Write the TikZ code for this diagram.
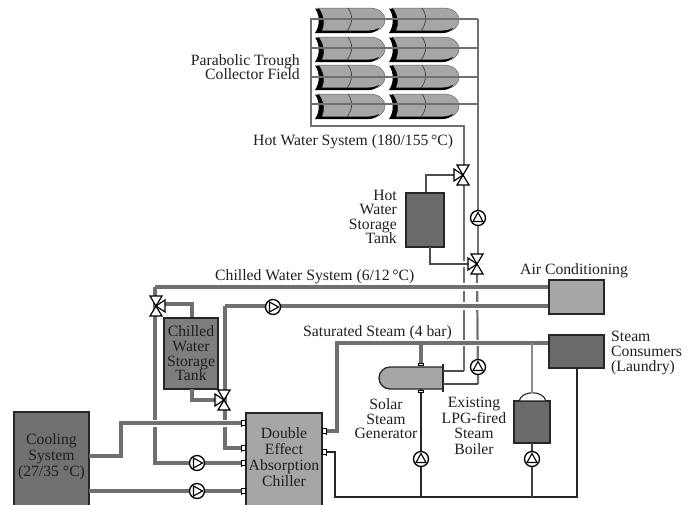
\documentclass[tikz,border=0pt]{standalone}
\usepackage{fontspec}
\setmainfont{Liberation Serif}
\definecolor{pipeg}{HTML}{707070}
\definecolor{darkbox}{HTML}{6A6A6A}
\definecolor{midbox}{HTML}{A6A6A6}
\tikzset{
 every node/.style={font=\fontsize{15.7}{14.6}\selectfont,text=black!88,inner sep=0pt,align=center},
 thick pipe/.style={draw=pipeg,line width=3.2pt,line join=miter},
 mid pipe/.style={draw=pipeg,line width=2.2pt},
 thin pipe/.style={draw=black!85,line width=1.3pt},
 halo/.style={draw=white,line width=8pt},
 pumpnode/.style={circle,draw=black,fill=white,line width=1.3pt,minimum size=15pt},
 tri/.style={draw=black,fill=white,line width=1.2pt,line join=miter},
 port/.style={draw=black,fill=white,line width=.8pt,minimum width=5pt,minimum height=5pt},
}
\newcommand{\pumpat}[3]{%
 \node[pumpnode] (#1) at (#2) {};
 \begin{scope}[shift={(#1)},rotate=#3]
  \draw[black,line width=1.1pt,line join=miter] (-3.5,-5)--(5.5,0)--(-3.5,5)--cycle;
 \end{scope}}
\newcommand{\valveat}[3]{%
 \coordinate (#1) at (#2);
 \begin{scope}[shift={(#1)},rotate=#3]
  \draw[tri] (0,0)--(-6,-10)--(6,-10)--cycle;
  \draw[tri] (0,0)--(-6,10)--(6,10)--cycle;
  \draw[tri] (0,0)--(9,-6)--(9,6)--cycle;
 \end{scope}}
\newcommand{\collector}[2]{%
 \begin{scope}[shift={(#1,#2)}]
  \path[fill=midbox,draw=black!60,line width=.5pt] (3,0) -- (54,0) .. controls (65,0) and (70,6) .. (70,12) .. controls (70,18) and (65,24) .. (54,24) -- (6,24) .. controls (10,16) and (9,7) .. (3,0) -- cycle;
  \fill[black] (0,0.5) -- (4,0.5) .. controls (9,8) and (10,16) .. (7,22.5) -- (54,22.5) .. controls (58,22.5) and (61,21.5) .. (64,20) .. controls (61,23.5) and (58,25) .. (54,25) -- (0,25) .. controls (5,18) and (5,7) .. (0,0.5) -- cycle;
  \draw[black!75,line width=.7pt] (33,0) .. controls (38,7) and (38,15) .. (32,23);
 \end{scope}}
\begin{document}
\begin{tikzpicture}[x=1pt,y=-1pt]
\useasboundingbox (0,0) rectangle (693,504);
\foreach \yy in {8,37,65,94}{\collector{315}{\yy}\collector{389}{\yy}}
\coordinate (fieldL) at (311,19);
\coordinate (fieldR) at (478,19);
\draw[mid pipe] (fieldR) -- (fieldL) -- (311,126) -- (464,126) -- (464,165);
\foreach \yy in {48,77,104}{\draw[mid pipe] (311,\yy) -- (478,\yy);}
\draw[mid pipe] (fieldR) -- (478,254);
\draw[mid pipe] (477,274) -- (478,384);
\draw[mid pipe] (464,185) -- (464,371);
\draw[thick pipe] (155,287) -- (155,463) -- (246,463);
\draw[thick pipe] (225,306) -- (225,448) -- (246,448);
\draw[halo,line width=6pt] (440,264) -- (470,264);
\draw[halo] (440,287) -- (500,287);
\draw[halo] (440,306) -- (500,306);
\draw[halo,line width=6pt] (440,343) -- (500,343);
\draw[halo,line width=7pt] (145,423) -- (235,423);
\node[draw=black!85,line width=1.5pt,fill=darkbox,minimum width=38pt,minimum height=54pt] (hot) at (425,220) {};
\node[draw=black!85,line width=1.5pt,fill=midbox,minimum width=55pt,minimum height=34pt] (ac) at (576.5,297) {};
\node[draw=black!85,line width=1.5pt,fill=darkbox,minimum width=55pt,minimum height=33pt] (consumers) at (576.5,351.5) {};
\node[draw=black!85,line width=1.5pt,fill=pipeg!90,minimum width=54pt,minimum height=71pt] (ctank) at (191,353.5) {Chilled\\Water\\Storage\\Tank};
\node[draw=black!85,line width=1.5pt,fill=midbox,minimum width=76pt,minimum height=100pt] (chiller) at (284,463) {};
\node[draw=black!85,line width=1.5pt,fill=darkbox!95,minimum width=75pt,minimum height=100pt] (cooling) at (51.5,462) {};
\node[draw=black!85,line width=1.5pt,fill=darkbox,minimum width=36pt,minimum height=42pt] (boiler) at (532,422) {};
\node at (51.5,457) {Cooling\\[1.2pt]System\\[1.2pt](27/35 °C)};
\node at (284,457) {Double\\[1.2pt]Effect\\[1.2pt]Absorption\\[1.2pt]Chiller};
\draw[draw=black!85,fill=white,line width=1.1pt] (519,401) .. controls (522,390) and (543,390) .. (546,401) -- cycle;
\path[draw=black!85,fill=midbox,line width=1.3pt] (443,367) -- (390,367) arc[start angle=270,end angle=90,radius=11] -- (443,389) -- cycle;
\draw[black!85,line width=1.5pt] (443,364) -- (443,392);
\draw[thin pipe,draw=black!70] (hot.north -| 426,193) -- (426,175) -- (455,175);
\draw[thin pipe,draw=black!70] (430,247) -- (430,264) -- (470,264);
\draw[thin pipe,draw=black!70] (443,371) -- (464,371);
\draw[thin pipe,draw=black!70] (443,384) -- (478,384);
\draw[thick pipe] (ac.west |- 0,287) -- (155,287);
\draw[thick pipe] (ac.west |- 0,306) -- (225,306);
\draw[thick pipe] (160,304) -- (192,304) -- (ctank.north -| 192,318);
\draw[thick pipe] (192,389) -- (192,400) -- (218,400);
\draw[thick pipe] (89,456) -- (121,456) -- (121,423) -- (246,423);
\draw[thick pipe] (89,491) -- (246,491);
\draw[thick pipe] (consumers.west |- 0,343) -- (337,343) -- (337,431) -- (322,431);
\draw[thick pipe] (421,343) -- (421,367);
\draw[mid pipe,draw=gray!90,line width=2.4pt] (532,343) -- (532,393);
\draw[thin pipe] (322,452) -- (335,452) -- (335,497) -- (577,497) -- (577,368);
\draw[thin pipe] (421,389) -- (421,497);
\draw[thin pipe,draw=black!75] (532,443) -- (532,497);
\valveat{vC}{156,306}{0}
\valveat{vD}{224,400}{180}
\valveat{vA}{463,175}{180}
\valveat{vB}{477,264}{180}
\foreach \py in {423,448,463,491}{\node[port,minimum width=4pt] at (243.5,\py) {};\draw[black,line width=1.2pt] (241.5,\py-3.5)--(241.5,\py+3.5);}
\foreach \py in {431,452}{\node[port,minimum width=4pt] at (324.5,\py) {};\draw[black,line width=1.2pt] (326.5,\py-3.5)--(326.5,\py+3.5);}
\node[port,minimum width=5pt,minimum height=2.5pt] at (421,364.5) {};
\node[port,minimum width=5pt,minimum height=2.5pt] at (421,391.5) {};
\pumpat{pA}{478,218}{90}
\pumpat{pB}{478,367}{90}
\pumpat{pC}{421,459}{90}
\pumpat{pD}{532,459}{90}
\pumpat{pE}{273,307}{0}
\pumpat{pF}{197,463}{0}
\pumpat{pG}{197,491}{0}
\node[align=right,anchor=east] at (300,67) {Parabolic Trough\\Collector Field};
\node[anchor=west] at (253,141.5) {Hot Water System (180/155\,°C)};
\node[align=right,anchor=east] at (397,217) {Hot\\Water\\Storage\\Tank};
\node[anchor=west] at (215,276.5) {Chilled Water System (6/12\,°C)};
\node[anchor=west] at (520,270.5) {Air Conditioning};
\node[anchor=west] at (303,332.5) {Saturated Steam (4 bar)};
\node[align=left,anchor=west] at (611,353) {Steam\\Consumers\\(Laundry)};
\node at (386,419) {Solar\\Steam\\Generator};
\node at (474,426) {Existing\\[1pt]LPG-fired\\[1pt]Steam\\[1pt]Boiler};
\end{tikzpicture}
\end{document}
